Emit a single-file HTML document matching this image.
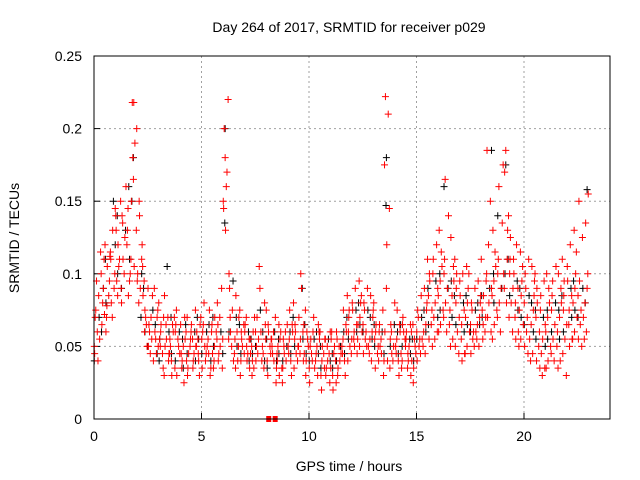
<!DOCTYPE html>
<html><head><meta charset="utf-8"><style>
body{margin:0;background:#fff}
svg{display:block;font-family:"Liberation Sans",sans-serif}
</style></head><body>
<svg id="chart" width="640" height="480" viewBox="0 0 640 480" xmlns="http://www.w3.org/2000/svg">
<rect width="640" height="480" fill="#fff"/>
<text x="349" y="32" font-size="14" text-anchor="middle">Day 264 of 2017, SRMTID for receiver p029</text>
<text x="349" y="471" font-size="14" text-anchor="middle">GPS time / hours</text>
<text transform="translate(19,238) rotate(-90)" font-size="14" text-anchor="middle">SRMTID / TECUs</text>
<g id="grid"></g>
<g id="ticks"></g>
<g id="black"></g>
<g id="red"></g>
<rect x="94" y="56" width="516" height="363" fill="none" stroke="#000" stroke-width="1"/>
</svg>
<script>
const xTicks=[0,5,10,15,20];
const yTicks=[0,0.05,0.1,0.15,0.2,0.25];
const yTickLabels=["0","0.05","0.1","0.15","0.2","0.25"];
const binWidth=0.25;
// red values (thousandths of TECU) per 0.25h bin starting at 0h
const redBins=[
[45,60,75,85,95,50,40,70],[80,100,110,65,55,90,115,72],[70,95,105,120,85,60,112,78],[100,130,115,90,80,145,70,110],
[120,140,110,95,150,85,130,105],[90,125,140,160,110,80,100,135],[100,130,150,85,120,95,145,110],[180,200,218,218,190,165,130,105],
[120,150,100,90,80,110,140,95],[60,85,70,95,50,75,105,65],[50,70,60,85,45,90,55,65],[45,60,75,55,40,70,90,50],
[50,35,65,80,45,55,70,60],[40,55,30,70,50,45,65,85],[30,45,60,50,70,40,55,65],[35,50,65,45,30,60,55,75],
[25,45,55,40,65,50,35,70],[40,55,30,60,45,70,50,35],[50,35,65,45,55,75,40,60],[45,60,30,55,70,40,50,65],
[35,50,65,45,80,55,40,60],[30,45,60,75,50,35,55,65],[40,55,70,45,60,35,80,50],[35,50,65,90,45,55,70,40],
[130,150,170,200,220,180,145,160],[55,75,90,40,60,100,50,70],[40,55,70,85,45,60,35,50],[30,45,60,75,50,40,65,55],
[35,50,65,45,70,55,40,60],[30,45,60,50,70,40,55,35],[40,55,70,90,45,60,105,50],[35,50,65,45,60,80,40,55],
[30,45,60,75,50,40,55,65],[25,40,55,70,45,35,60,50],[30,45,60,50,35,65,40,55],[25,40,55,65,45,35,60,50],
[30,45,60,75,50,40,55,65],[35,50,65,80,45,55,40,60],[40,55,70,90,45,60,100,50],[30,45,60,75,50,40,65,55],
[25,40,55,70,45,35,60,50],[30,45,60,50,35,65,40,55],[20,35,50,60,45,30,55,40],[25,40,55,45,35,60,50,30],
[20,35,50,60,40,30,55,45],[25,40,55,45,35,60,50,30],[30,45,60,75,50,40,55,65],[40,55,70,85,50,60,45,75],
[45,60,75,90,55,65,50,80],[50,65,80,95,60,70,55,85],[45,60,75,90,55,65,50,80],[40,55,70,85,50,60,45,75],
[35,50,65,80,45,55,40,60],[30,45,60,75,50,40,55,65],[120,175,210,222,145,90,60,40],[35,50,65,80,45,55,40,60],
[30,45,60,75,50,40,55,65],[35,50,65,45,60,40,55,70],[30,45,60,50,35,65,40,55],[25,40,55,65,45,35,60,50],
[40,55,70,85,50,60,45,75],[45,60,75,90,55,65,50,80],[55,75,95,110,65,85,50,100],[60,80,100,120,70,90,55,110],
[65,85,105,130,75,95,60,115],[70,90,110,140,80,100,60,165],[55,75,95,125,65,85,50,105],[50,70,90,110,60,80,45,100],
[45,65,85,100,55,75,40,95],[50,70,90,105,60,80,45,100],[45,60,75,90,55,65,50,80],[50,65,80,95,60,70,55,85],
[55,70,85,110,60,75,95,65],[60,80,100,150,70,90,120,185],[65,85,105,130,75,95,55,115],[70,90,110,135,80,100,60,160],
[80,100,130,170,175,185,90,110],[70,90,110,140,80,100,60,125],[60,80,100,120,70,90,55,110],[55,75,95,115,65,85,50,105],
[50,70,90,110,60,80,45,100],[45,65,85,105,55,75,40,95],[40,60,80,100,50,70,35,90],[35,55,75,95,45,65,30,85],
[40,60,80,100,50,70,35,90],[45,65,85,105,55,75,40,95],[40,60,80,100,50,70,35,90],[45,65,85,110,55,75,30,95],
[55,75,95,120,65,85,50,105],[60,80,100,130,70,90,55,115],[55,75,95,125,65,85,50,150],[60,80,100,135,70,90,55,155]
];
const blackBins=[
[40,70],[90,60],[80,110],[120,150],[100,140],[90,130],[110,160],[180,150],
[100,70],[60,90],[50,75],[45,65],[55,40],[60,105],[45,70],[40,60],
[35,55],[45,65],[40,60],[55,70],[45,60],[40,65],[50,70],[45,60],
[200,135],[60,95],[50,70],[45,65],[40,60],[45,55],[50,75],[40,60],
[35,55],[40,60],[45,55],[40,50],[45,60],[50,70],[55,90],[45,65],
[40,55],[45,60],[35,50],[40,55],[35,45],[40,50],[45,60],[55,70],
[60,75],[65,80],[60,75],[55,70],[50,65],[45,60],[180,147],[50,65],
[45,60],[50,65],[45,55],[40,55],[55,70],[60,75],[65,90],[70,95],
[75,100],[160,90],[70,95],[65,85],[60,80],[65,85],[60,75],[65,80],
[70,85],[185,90],[80,100],[140,90],[175,100],[85,110],[75,95],[70,90],
[65,85],[60,80],[55,75],[50,70],[55,75],[60,80],[55,75],[60,85],
[70,90],[75,95],[70,90],[158,80]
];
const X0=94,X1=610,Y0=419,Y1=56,XMAX=24,YMAX=0.25;
// within-bin scatter order (style only)
const JIT=[0.12,0.61,0.33,0.87,0.47,0.05,0.74,0.22,0.95,0.40];
function sx(h){return X0+(X1-X0)*h/XMAX;}
function sy(v){return Y0-(Y0-Y1)*v/YMAX;}
const NS="http://www.w3.org/2000/svg";
const grid=document.getElementById('grid'),ticks=document.getElementById('ticks');
function mk(tag,attrs,parent){const e=document.createElementNS(NS,tag);for(const k in attrs)e.setAttribute(k,attrs[k]);parent.appendChild(e);return e;}
xTicks.forEach((t,i)=>{
  const x=sx(t);
  if(t>0){const g=mk('line',{x1:x,x2:x,y1:Y1,y2:Y0,stroke:'#a0a0a0','stroke-dasharray':'2,3'},grid);
  
  }
  const tk=mk('line',{x1:x,x2:x,y1:Y0,y2:Y0-6,stroke:'#000'},ticks);
  
  
  const lb=mk('text',{x:x,y:Y0+22,'font-size':14,'text-anchor':'middle'},ticks);lb.textContent=String(t);
  
  
});
yTicks.forEach((t,i)=>{
  const y=sy(t);
  if(t>0&&t<YMAX){const g=mk('line',{x1:X0,x2:X1,y1:y,y2:y,stroke:'#a0a0a0','stroke-dasharray':'2,3'},grid);
  
  }
  const tk=mk('line',{x1:X0,x2:X0+6,y1:y,y2:y,stroke:'#000'},ticks);
  
  
  const lb=mk('text',{x:X0-12,y:y+5,'font-size':14,'text-anchor':'end'},ticks);lb.textContent=yTickLabels[i];
  
  
});
function plus(parent,h,v,color){
  const x=sx(h),y=sy(v);
  const p=mk('path',{d:`M${x-3.5} ${y}h7M${x} ${y-3.5}v7`,stroke:color,'stroke-width':1,fill:'none'},parent);
  
  
}
const blk=document.getElementById('black'),red=document.getElementById('red');
blackBins.forEach((vals,b)=>vals.forEach((v,j)=>plus(blk,b*binWidth+JIT[(j*3+b+5)%JIT.length]*binWidth,v/1000,'#000')));
redBins.forEach((vals,b)=>vals.forEach((v,j)=>plus(red,b*binWidth+JIT[(j+b)%JIT.length]*binWidth,v/1000,'#f00')));
[8.15,8.45].forEach(h=>{const r=mk('rect',{x:sx(h)-3,y:Y0-3,width:5,height:6,fill:'#f00'},red);

});
</script>
</body></html>
